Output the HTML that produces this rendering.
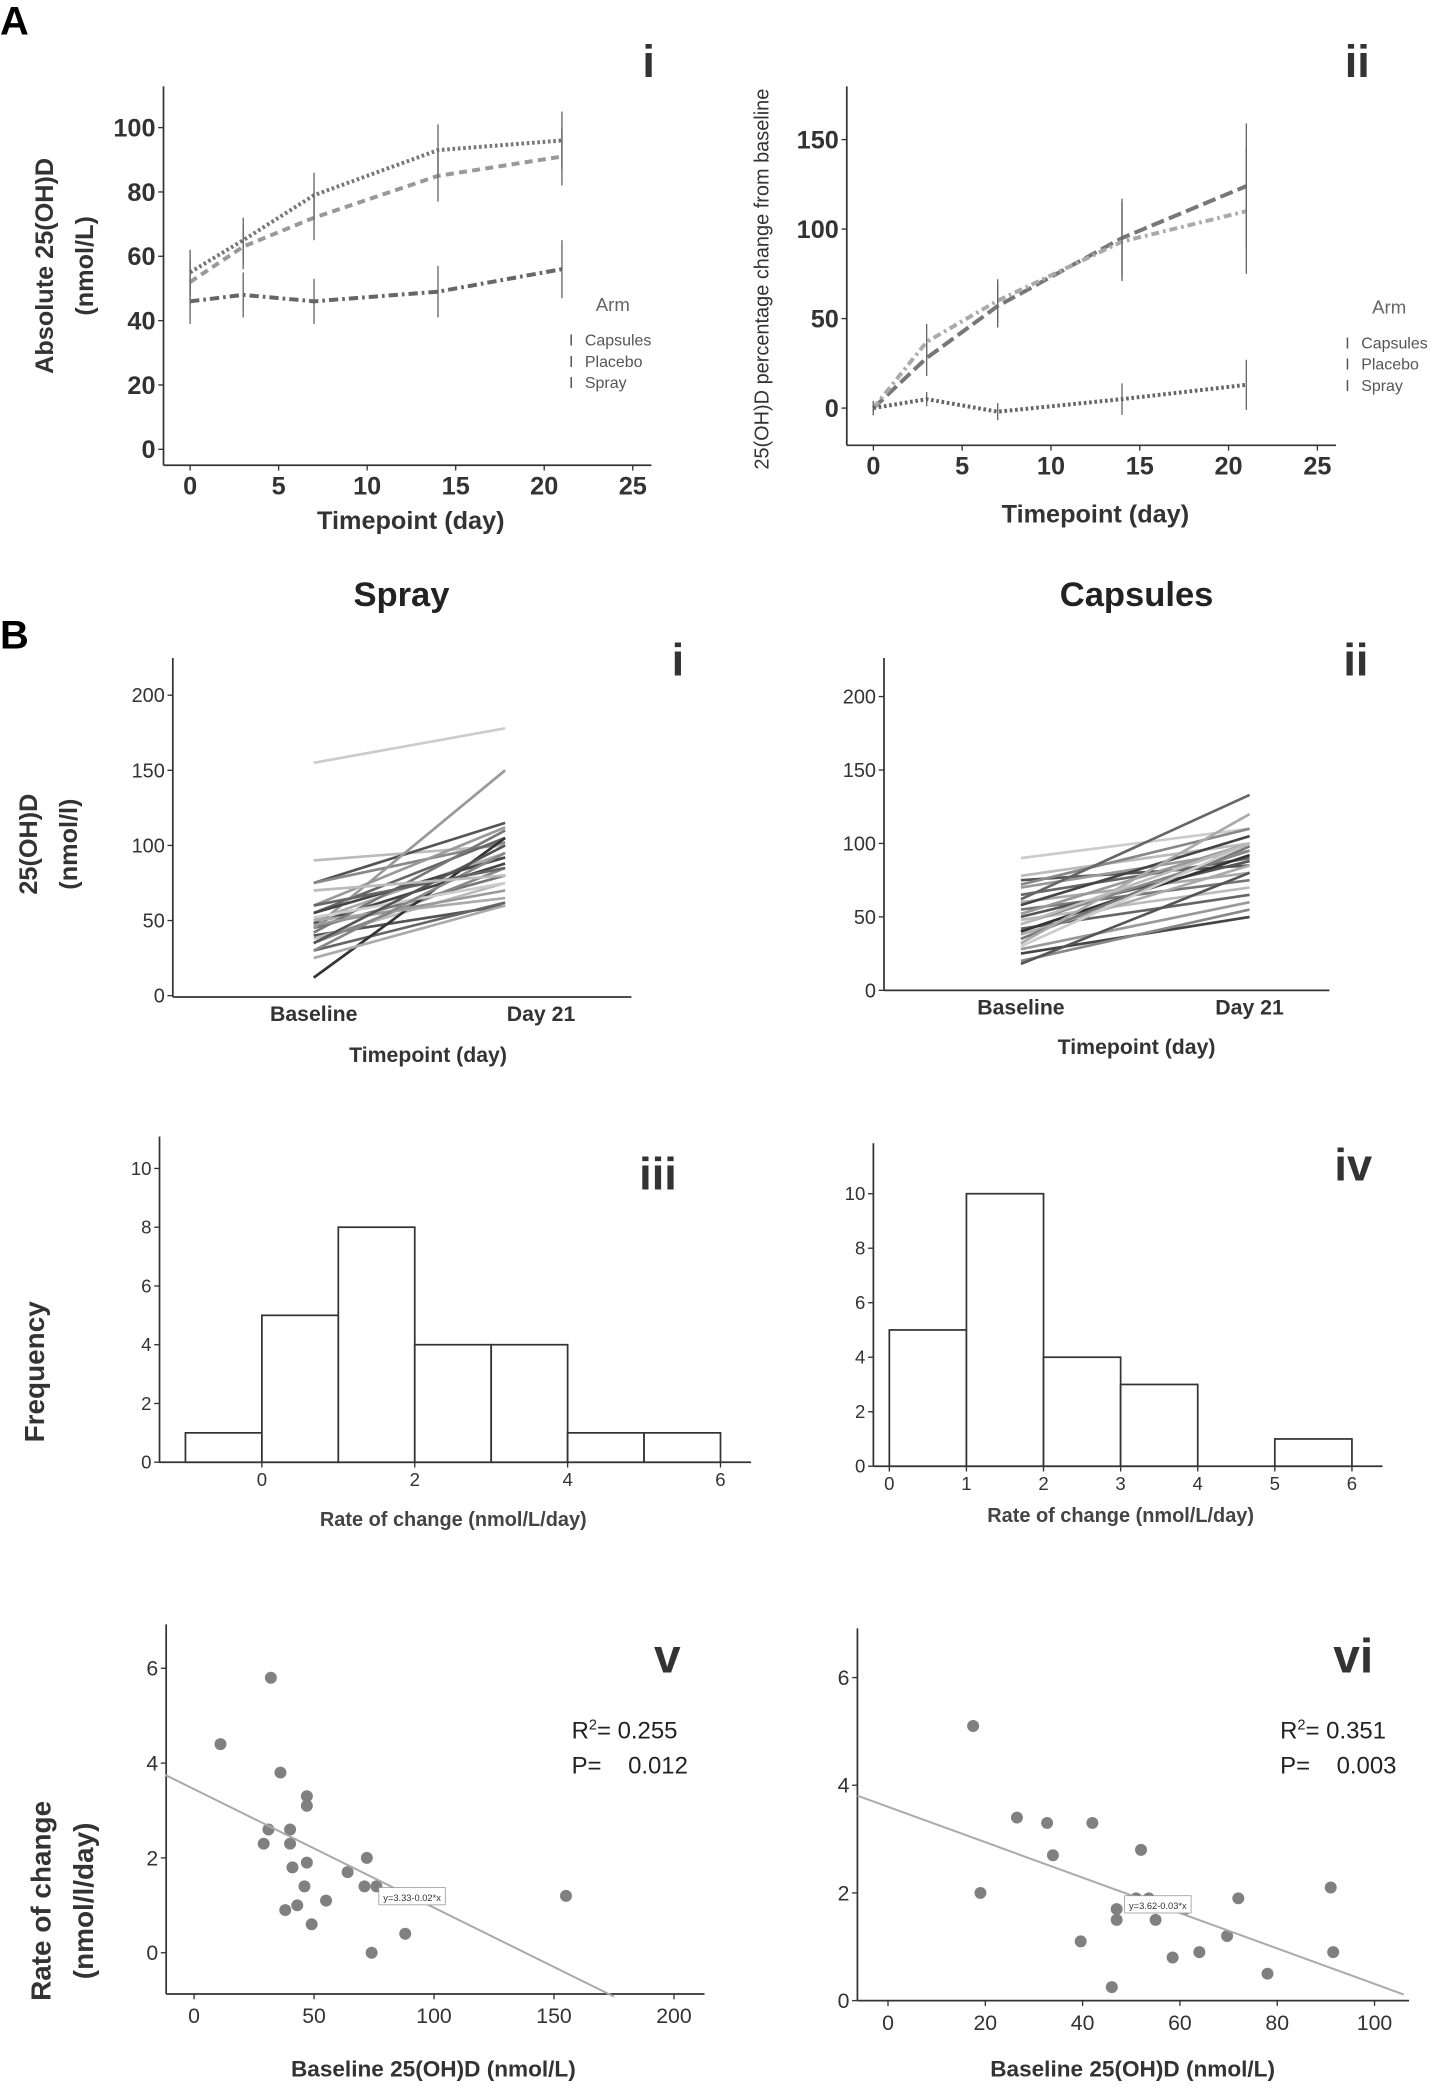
<!DOCTYPE html>
<html><head><meta charset="utf-8">
<style>
html,body{margin:0;padding:0;background:#fff;}
svg{display:block;font-family:"Liberation Sans",Arial,sans-serif;}
</style></head>
<body>
<svg id="fig" width="1441" height="2087" viewBox="0 0 1084 1570" preserveAspectRatio="none" xmlns="http://www.w3.org/2000/svg">
<rect width="1084" height="1570" fill="#fff"/>
<text x="0" y="26" font-size="30" font-weight="bold">A</text>
<text x="0" y="488" font-size="30" font-weight="bold">B</text>
<text x="302" y="456" font-size="26" font-weight="bold" text-anchor="middle" fill="#222">Spray</text>
<text x="855" y="456" font-size="26" font-weight="bold" text-anchor="middle" fill="#222">Capsules</text>
</svg>
<script>
// ===== Data =====
const aDays=[0,3,7,14,21];
const aiCapsules=[55,65,79,93,96];
const aiSpray=[52,63,72,85,91];
const aiPlacebo=[46,48,46,49,56];
const aiErr=[7,7,7,8,9];
const aiiCapsules=[0,28,57,95,124];
const aiiSpray=[0,37,60,93,110];
const aiiPlacebo=[0,5,-2,5,13];
const aiiErr=[4,10,12,22,35];
const aXTicks=[0,5,10,15,20,25];
const aiYTicks=[0,20,40,60,80,100];
const aiiYTicks=[0,50,100,150];
const sprayBaseline=[155,90,75,75,60,55,50,48,45,45,40,38,35,30,12,50,42,52,47,55,30,25,60,35,70];
const sprayDay21=[178,100,115,102,112,105,95,88,80,150,60,75,85,62,105,65,110,75,70,92,95,60,85,100,80];
const capsBaseline=[90,78,75,72,70,65,60,58,55,52,50,48,45,42,40,38,35,30,28,25,20,32,62,18,45];
const capsDay21=[110,100,85,110,95,90,80,105,75,100,88,70,95,65,92,85,98,100,60,50,55,120,133,80,100];
const biYTicks=[0,50,100,150,200];
const sprayHistBins=[-1,0,1,2,3,4,5];
const sprayHistCounts=[1,5,8,4,4,1,1];
const capsHistBins=[0,1,2,3,4,5];
const capsHistCounts=[5,10,4,3,0,1];
const histXTicksSpray=[0,2,4,6];
const histXTicksCaps=[0,1,2,3,4,5,6];
const histYTicksSpray=[0,2,4,6,8,10];
const histYTicksCaps=[0,2,4,6,8,10];
const scatterSprayX=[11,32,36,47,47,31,40,29,40,41,47,64,72,46,71,76,38,43,55,49,88,74,155];
const scatterSprayY=[4.4,5.8,3.8,3.3,3.1,2.6,2.6,2.3,2.3,1.8,1.9,1.7,2.0,1.4,1.4,1.4,0.9,1.0,1.1,0.6,0.4,0.0,1.2];
const scatterCapsX=[17.5,19,26.5,32.7,33.9,42,52,39.6,47,47,51,53.6,55,61,58.5,64,69.7,72,78,91,91.5,46];
const scatterCapsY=[5.1,2.0,3.4,3.3,2.7,3.3,2.8,1.1,1.7,1.5,1.9,1.9,1.5,1.7,0.8,0.9,1.2,1.9,0.5,2.1,0.9,0.25];
const sprayFit=[3.45,-0.025];
const capsFit=[3.6,-0.0329];
const vXTicks=[0,50,100,150,200];
const viXTicks=[0,20,40,60,80,100];
const scatYTicks=[0,2,4,6];

// ===== Helpers =====
const NS='http://www.w3.org/2000/svg';
const svg=document.getElementById('fig');
function el(tag,attrs,parent,text){const e=document.createElementNS(NS,tag);for(const k in attrs)e.setAttribute(k,attrs[k]);if(text!==undefined)e.textContent=text;(parent||svg).appendChild(e);return e;}
function lin(d0,d1,p0,p1){return v=>p0+(v-d0)*(p1-p0)/(d1-d0);}
function group(name){const g=el('g',{});


return g;}
function axes(g,x0,x1,yTop,yBase,yAxisX){el('line',{x1:yAxisX,y1:yTop,x2:yAxisX,y2:yBase,stroke:'#333','stroke-width':1.3},g);el('line',{x1:yAxisX,y1:yBase,x2:x1,y2:yBase,stroke:'#333','stroke-width':1.3},g);}
function xTicks(g,ticks,sx,yBase,fs,weight,dy){ticks.forEach(t=>{el('line',{x1:sx(t),y1:yBase,x2:sx(t),y2:yBase+4,stroke:'#333'},g);const tx=el('text',{x:sx(t),y:yBase+dy,'font-size':fs,'font-weight':weight,'text-anchor':'middle',fill:'#333'},g,String(t));

});}
function yTicks(g,ticks,sy,xAxis,fs,weight,dx){ticks.forEach(t=>{el('line',{x1:xAxis-4,y1:sy(t),x2:xAxis,y2:sy(t),stroke:'#333'},g);const ty=el('text',{x:xAxis-dx,y:sy(t)+fs*0.35,'font-size':fs,'font-weight':weight,'text-anchor':'end',fill:'#333'},g,String(t));

});}
function label(g,x,y,txt,fs,weight,name,rot,anchor){const a={x:x,y:y,'font-size':fs,'font-weight':weight||'normal','text-anchor':anchor||'middle',fill:'#333'};if(rot)a.transform='rotate(-90 '+x+' '+y+')';const t=el('text',a,g,txt);

return t;}
function series(g,xs,ys,errs,sx,sy,dash,color,name){const pts=xs.map((x,i)=>sx(x)+','+sy(ys[i])).join(' ');const p=el('polyline',{points:pts,fill:'none',stroke:color,'stroke-width':3,'stroke-dasharray':dash},g);


xs.forEach((x,i)=>{const e=errs[i];const l=el('line',{x1:sx(x),y1:sy(ys[i]-e),x2:sx(x),y2:sy(ys[i]+e),stroke:'#666','stroke-width':1},g);

});}
function legend(g,x,y){label(g,x+33,y,'Arm',14,'normal','legend-title',false,'middle').setAttribute('fill','#666');['Capsules','Placebo','Spray'].forEach((n,i)=>{const yy=y+26+i*16;el('text',{x:x,y:yy,'font-size':12,fill:'#555'},g,'I');const t=el('text',{x:x+12,y:yy,'font-size':12,fill:'#555'},g,n);

});}

// ===== A-i =====
(function(){const g=group('chart-a-i');const sx=lin(0,25,143,476),sy=lin(0,100,338,96);
axes(g,143,490,65,350,123);xTicks(g,aXTicks,sx,350,19,'bold',22);yTicks(g,aiYTicks,sy,123,19,'bold',6);
series(g,aDays,aiCapsules,aiErr,sx,sy,'2 2','#777','capsules');
series(g,aDays,aiSpray,aiErr,sx,sy,'6 4','#999','spray');
series(g,aDays,aiPlacebo,aiErr,sx,sy,'7 3 2 3','#666','placebo');
label(g,309,398,'Timepoint (day)',19,'bold','x-axis-title');
label(g,40,200,'Absolute 25(OH)D',19,'bold','y-axis-title',true);
label(g,70,200,'(nmol/L)',19,'bold','y-axis-unit',true);
label(g,488,58,'i',34,'bold','panel-label-a-i');
legend(g,428,234);})();

// ===== A-ii =====
(function(){const g=group('chart-a-ii');const sx=lin(0,25,657,991),sy=lin(0,150,307,105);
axes(g,657,1005,65,335,637);xTicks(g,aXTicks,sx,335,19,'bold',22);yTicks(g,aiiYTicks,sy,637,19,'bold',6);
series(g,aDays,aiiCapsules,aiiErr,sx,sy,'10 4','#777','capsules');
series(g,aDays,aiiSpray,aiiErr,sx,sy,'6 3 2 3','#aaa','spray');
series(g,aDays,aiiPlacebo,aiiErr.map(e=>e*0.4),sx,sy,'2 2','#666','placebo');
label(g,824,393,'Timepoint (day)',19,'bold','x-axis-title');
label(g,578,210,'25(OH)D percentage change from baseline',15,'normal','y-axis-title',true);
label(g,1021,58,'ii',34,'bold','panel-label-a-ii');
legend(g,1012,236);})();

// ===== B-i / B-ii paired lines =====
function paired(name,yAxisX,x1,yTop,yBase,bx,dx,y0,y200,base,day,lblY,titleX,titleY,roman,romanX){const g=group(name);const sy=lin(0,200,y0,y200);
axes(g,yAxisX,x1,yTop,yBase,yAxisX);yTicks(g,biYTicks,sy,yAxisX,15,'normal',6);
const shades=['#ccc','#bbb','#555','#888','#999','#666','#aaa','#444','#777','#999','#555','#bbb','#888','#666','#333','#aaa','#777','#ccc','#999','#444','#888','#aaa','#666','#555','#bbb'];
base.forEach((b,i)=>{const l=el('line',{x1:bx,y1:sy(b),x2:dx,y2:sy(day[i]),stroke:shades[i%shades.length],'stroke-width':2},g);

});
label(g,bx,lblY,'Baseline',16,'bold','x-category-baseline');label(g,dx+(name==='chart-b-i'?27:0),lblY,'Day 21',16,'bold','x-category-day21');
label(g,titleX,titleY,'Timepoint (day)',16,'bold','x-axis-title');
label(g,romanX,508,roman,34,'bold','panel-label-'+name.slice(6));return g;}
const gbi=paired('chart-b-i',130,475,495,750,236,380,749,523,sprayBaseline,sprayDay21,768,322,799,'i',510);
label(gbi,28,635,'25(OH)D',19,'bold','y-axis-title',true);label(gbi,58,635,'(nmol/l)',19,'bold','y-axis-unit',true);
paired('chart-b-ii',665,1000,495,745,768,940,745,524,capsBaseline,capsDay21,763,855,793,'ii',1020);

// ===== Histograms =====
function hist(name,yAxisX,x1,yTop,yBase,sx,sy,bins,counts,xt,yt,lblX,lblDy,roman,romanX,romanY){const g=group(name);
axes(g,yAxisX,x1,yTop,yBase,yAxisX);xTicks(g,xt,sx,yBase,14,'normal',18);yTicks(g,yt,sy,yAxisX,14,'normal',6);
bins.forEach((b,i)=>{if(!counts[i])return;const r=el('rect',{x:sx(b),y:sy(counts[i]),width:sx(b+1)-sx(b),height:sy(0)-sy(counts[i]),fill:'#fff',stroke:'#333','stroke-width':1.3},g);

});
label(g,lblX,yBase+lblDy,'Rate of change (nmol/L/day)',15,'bold','x-axis-title').setAttribute('fill','#444');
label(g,romanX,romanY,roman,34,'bold','panel-label-'+name.slice(6));return g;}
const giii=hist('chart-b-iii',120,565,855,1100,lin(0,2,197,312),lin(0,10,1100,879),sprayHistBins,sprayHistCounts,histXTicksSpray,histYTicksSpray,341,48,'iii',495,895);
label(giii,33,1032,'Frequency',21,'bold','y-axis-title',true);
hist('chart-b-iv',657,1040,860,1103,lin(0,1,669,727),lin(0,10,1103,898),capsHistBins,capsHistCounts,histXTicksCaps,histYTicksCaps,843,42,'iv',1018,888);

// ===== Scatter =====
function scatter(name,yAxisX,x1,yTop,yBase,sx,sy,xs,ys,fit,xt,fitRange,eq,r2,p,statX,roman,romanX,titleX){const g=group(name);
axes(g,yAxisX,x1,yTop,yBase,yAxisX);xTicks(g,xt,sx,yBase,16,'normal',22);yTicks(g,scatYTicks,sy,yAxisX,16,'normal',6);
xs.forEach((x,i)=>{const c=el('circle',{cx:sx(x),cy:sy(ys[i]),r:4.5,fill:'#808080'},g);

});
const fl=el('line',{x1:sx(fitRange[0]),y1:sy(fit[0]+fit[1]*fitRange[0]),x2:sx(fitRange[1]),y2:sy(fit[0]+fit[1]*fitRange[1]),stroke:'#aaa','stroke-width':1.5},g);


const mx=(fitRange[0]+fitRange[1])/2+ (fitRange[1]-fitRange[0])*0.05, my=fit[0]+fit[1]*mx;
el('rect',{x:sx(mx)-25,y:sy(my)-7,width:50,height:13,fill:'#fff',stroke:'#999','stroke-width':0.6},g);
label(g,sx(mx),sy(my)+3,eq,7,'normal','regression-equation');
const t1=el('text',{x:statX,y:1308,'font-size':18,fill:'#222'},g);t1.innerHTML='R<tspan font-size="11" dy="-7">2</tspan><tspan dy="7">= '+r2+'</tspan>';


label(g,statX,1334,'P=\u00a0\u00a0\u00a0 '+p,18,'normal','p-value-label',false,'start').setAttribute('fill','#222');
label(g,romanX,1258,roman,36,'bold','panel-label-'+name.slice(6));
label(g,titleX,1562,'Baseline 25(OH)D (nmol/L)',17,'bold','x-axis-title');return g;}
const gv=scatter('chart-b-v',125,530,1222,1500,lin(0,200,146,507),lin(0,6,1469,1255),scatterSprayX,scatterSprayY,sprayFit,vXTicks,[-12,175],'y=3.33-0.02*x','0.255','0.012',430,'v',502,326);
label(gv,38,1430,'Rate of change',21,'bold','y-axis-title',true);label(gv,70,1430,'(nmol/l/day)',21,'bold','y-axis-unit',true);
scatter('chart-b-vi',645,1060,1225,1505,lin(0,100,668,1034),lin(0,6,1505,1262),scatterCapsX,scatterCapsY,capsFit,viXTicks,[-6.3,106],'y=3.62-0.03*x','0.351','0.003',963,'vi',1018,852);
</script>
</body></html>
